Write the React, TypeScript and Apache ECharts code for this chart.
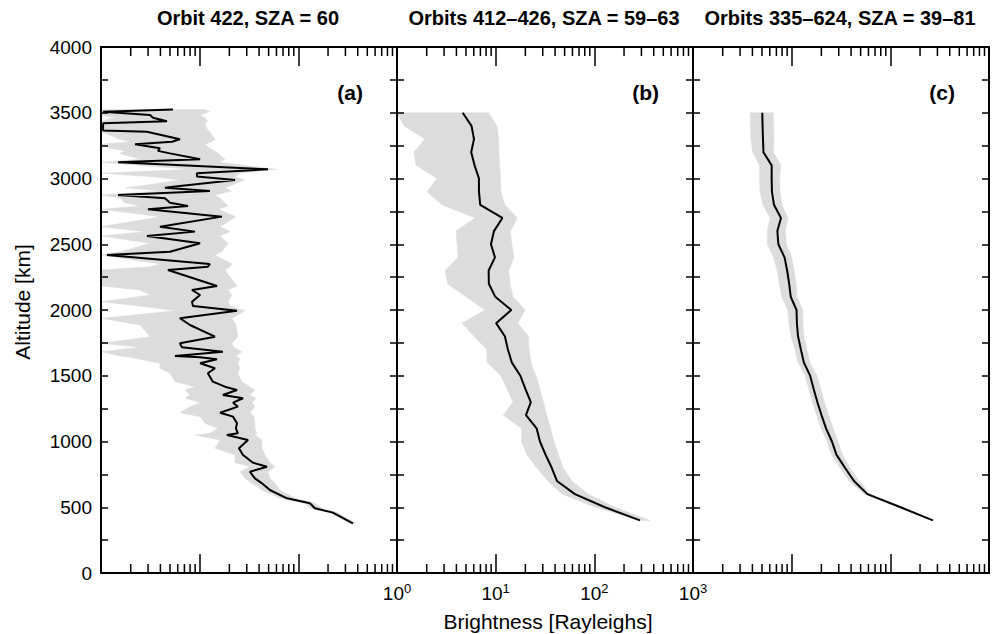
import React, { useEffect, useRef } from 'react';
import * as echarts from 'echarts';

const PANEL_TITLES = ['Orbit 422, SZA = 60', 'Orbits 412–426, SZA = 59–63', 'Orbits 335–624, SZA = 39–81'];
const PANEL_TAGS = ['(a)', '(b)', '(c)'];
const X_NAME = 'Brightness [Rayleighs]';
const Y_NAME = 'Altitude [km]';
const X_MIN = 1;
const X_MAX = 1000;
const Y_MIN = 0;
const Y_MAX = 4000;
const Y_STEP = 250;
const Y_LABEL_STEP = 500;
const MINOR_X = [2, 3, 4, 5, 6, 7, 8, 9, 20, 30, 40, 50, 60, 70, 80, 90, 200, 300, 400, 500, 600, 700, 800, 900];

// rows: [altitude km, brightness R, band low, band high]
const ROWS_A = [
  [3525, 5.36, 1, 11.3], [3508, 1.05, 1, 12.7], [3483, 3.14, 1, 10.1], [3462, 3.36, 1.39, 11.3],
  [3435, 4.66, 1, 12.1], [3420, 1.05, 1, 11.3], [3365, 1.05, 1, 12.1], [3356, 2.92, 1, 12.7],
  [3298, 6.31, 1.56, 14.3], [3280, 5.24, 1.97, 13.3], [3260, 2.21, 1, 11.3], [3230, 3.96, 1.23, 12.7],
  [3210, 3.78, 1.75, 14.3], [3191, 5.0, 1.56, 15.3], [3146, 10.1, 2.48, 18.0], [3123, 1.49, 1, 16.1],
  [3070, 49.2, 7.97, 59.3], [3040, 9.39, 1, 25.6], [3015, 9.39, 3.14, 22.8], [2989, 22.8, 6.31, 28.8],
  [2943, 6.31, 2.48, 20.3], [2930, 4.45, 1.75, 18.0], [2905, 12.7, 3.96, 21.2], [2875, 1.49, 1, 14.3],
  [2850, 4.45, 1.56, 16.1], [2816, 5.0, 1.75, 18.0], [2791, 7.61, 2.48, 19.4], [2766, 2.99, 1, 15.3],
  [2710, 16.8, 3.96, 23.3], [2633, 3.96, 1, 16.1], [2596, 8.96, 2.79, 20.3], [2563, 2.92, 1, 16.1],
  [2507, 10.1, 3.14, 19.4], [2443, 5.0, 1.56, 16.8], [2418, 1.15, 1, 14.3], [2350, 12.7, 3.96, 21.2],
  [2329, 12.1, 3.14, 20.3], [2304, 4.77, 1, 18.0], [2183, 15.0, 1, 23.9], [2152, 8.36, 2.48, 19.4],
  [2114, 10.1, 3.14, 21.2], [2063, 8.36, 1, 19.4], [2030, 8.56, 2.48, 20.3], [1995, 23.9, 5.62, 28.8],
  [1937, 6.31, 1, 21.2], [1886, 7.97, 2.48, 23.3], [1797, 14.3, 3.14, 24.4], [1747, 6.31, 1, 21.2],
  [1716, 6.62, 2.48, 22.3], [1683, 17.2, 1, 26.8], [1650, 5.62, 1.56, 23.3], [1640, 10.1, 1.97, 24.4],
  [1625, 15.0, 2.48, 25.6], [1595, 10.1, 3.96, 24.4], [1557, 14.3, 3.96, 25.6], [1519, 12.1, 5.0, 24.4],
  [1455, 13.6, 5.62, 26.8], [1417, 18.0, 8.96, 32.3], [1392, 23.9, 7.1, 36.3], [1354, 17.2, 7.97, 32.3],
  [1329, 27.5, 7.1, 37.2], [1295, 21.8, 10.1, 33.9], [1265, 24.4, 7.97, 36.3], [1219, 16.1, 6.31, 32.3],
  [1189, 21.8, 10.1, 35.5], [1138, 23.9, 11.3, 36.3], [1100, 23.3, 15.3, 36.3], [1062, 24.4, 12.7, 38.1],
  [1049, 18.9, 8.96, 36.3], [1011, 30.9, 16.1, 42.8], [948, 25.0, 14.3, 42.8], [897, 27.5, 22.8, 45.9],
  [839, 34.7, 22.8, 51.5], [808, 48.1, 32.3, 57.9], [770, 32.3, 25.6, 49.2], [720, 36.3, 28.8, 51.5],
  [682, 42.8, 33.9, 57.9], [631, 51.5, 42.8, 65.2], [568, 76.7, 65.2, 92.5], [530, 131, 117, 147],
  [492, 147, 131, 173], [459, 224, 209, 252], [378, 357, 333, 384],
];

const ROWS_B = [
  [3500, 4.63, 1.0, 8.49], [3400, 5.69, 1.18, 10.3], [3300, 6.03, 1.92, 10.7], [3200, 5.65, 1.48, 10.8],
  [3100, 6.11, 1.56, 11.0], [3000, 6.77, 2.54, 11.2], [2900, 6.77, 2.01, 11.3], [2800, 6.98, 2.86, 12.4],
  [2700, 11.7, 6.17, 16.5], [2600, 9.61, 3.96, 14.1], [2500, 8.96, 4.06, 14.6], [2400, 9.84, 4.15, 15.3],
  [2300, 8.49, 3.08, 13.6], [2200, 8.53, 3.25, 14.0], [2100, 9.91, 5.0, 15.0], [2000, 14.4, 7.79, 19.9],
  [1900, 10.1, 4.55, 16.8], [1800, 12.4, 6.03, 21.4], [1700, 13.3, 8.11, 21.8], [1600, 14.6, 8.18, 22.8],
  [1500, 17.8, 11.3, 25.6], [1400, 20.0, 13.0, 28.1], [1300, 22.7, 15.0, 30.5], [1200, 20.3, 11.9, 33.0],
  [1100, 26.0, 18.3, 35.9], [1000, 28.1, 18.3, 38.9], [900, 32.0, 20.7, 43.3], [800, 37.0, 26.0, 48.1],
  [700, 41.8, 33.8, 59.3], [600, 63.6, 46.9, 86.3], [500, 128, 101, 162], [400, 290, 290, 366],
];

const ROWS_C = [
  [3500, 5.04, 3.81, 6.51], [3400, 5.07, 3.83, 6.56], [3300, 5.12, 3.87, 6.62], [3200, 5.18, 4.01, 6.54],
  [3100, 6.27, 4.74, 7.74], [3000, 6.27, 4.74, 7.56], [2900, 6.31, 4.77, 7.61], [2800, 6.62, 5.12, 7.97],
  [2700, 7.79, 6.03, 9.18], [2600, 7.16, 5.67, 8.63], [2500, 7.33, 5.67, 8.84], [2400, 8.47, 6.56, 9.98],
  [2300, 9.0, 7.13, 10.6], [2200, 9.43, 7.47, 11.1], [2100, 9.79, 7.94, 11.3], [2000, 11.2, 9.12, 12.9],
  [1900, 11.3, 9.39, 13.0], [1800, 11.6, 9.84, 13.3], [1700, 12.4, 10.8, 14.3], [1600, 13.3, 11.6, 15.3],
  [1500, 15.4, 13.7, 18.1], [1400, 16.7, 14.9, 19.7], [1300, 18.2, 16.2, 21.4], [1200, 20.1, 17.9, 23.7],
  [1100, 22.3, 19.9, 26.3], [1000, 25.6, 22.8, 29.4], [900, 28.4, 25.3, 32.7], [800, 34.7, 30.9, 39.0],
  [700, 42.8, 38.1, 48.1], [600, 58.5, 54.5, 62.7], [500, 127, 122, 131], [400, 270, 267, 273],
];

const FONT = '"Liberation Sans", Arial, Helvetica, sans-serif';

export default function App() {
  const ref = useRef<HTMLDivElement>(null);

  useEffect(() => {
    if (!ref.current) return;
    const chart = echarts.init(ref.current, null, { renderer: 'svg' });
    const panels = [ROWS_A, ROWS_B, ROWS_C];
    const LEFT = 101;
    const W = 296;
    const TOP = 47;
    const H = 526;

    const grid = panels.map((_, i) => ({ left: LEFT + i * W, top: TOP, width: W, height: H, containLabel: false }));

    const axisLine = { show: true, onZero: false, lineStyle: { color: '#000', width: 2 } };
    const xAxis: any[] = [];
    const yAxis: any[] = [];
    panels.forEach((_, i) => {
      const base = {
        type: 'log',
        logBase: 10,
        gridIndex: i,
        min: X_MIN,
        max: X_MAX,
        axisLine,
        axisTick: { show: true, inside: true, length: 19, lineStyle: { color: '#000', width: 1.5 } },
        splitLine: { show: false },
        z: 10,
      };
      xAxis.push({
        ...base,
        position: 'bottom',
        axisLabel:
          i === 1
            ? {
                show: true,
                showMinLabel: true,
                showMaxLabel: true,
                margin: 9,
                formatter: (v: number) => `{b|10}{s|${Math.round(Math.log10(v))}}`,
                rich: {
                  b: { fontSize: 19, fontFamily: FONT, color: '#000', lineHeight: 22 },
                  s: { fontSize: 13, fontFamily: FONT, color: '#000', verticalAlign: 'top', lineHeight: 13 },
                },
              }
            : { show: false },
      });
      xAxis.push({ ...base, position: 'top', axisLabel: { show: false } });

      const ybase = {
        type: 'value',
        gridIndex: i,
        min: Y_MIN,
        max: Y_MAX,
        interval: Y_STEP,
        axisLine,
        axisTick: { show: true, inside: true, length: 7, lineStyle: { color: '#000', width: 1.5 } },
        splitLine: { show: false },
        z: 10,
      };
      yAxis.push({
        ...ybase,
        position: 'left',
        axisLabel:
          i === 0
            ? {
                show: true,
                margin: 9,
                fontSize: 19,
                fontFamily: FONT,
                color: '#000',
                formatter: (v: number) => (v % Y_LABEL_STEP === 0 ? String(v) : ''),
              }
            : { show: false },
      });
      yAxis.push({ ...ybase, position: 'right', axisLabel: { show: false } });
    });

    const series: any[] = [];
    panels.forEach((rows, i) => {
      series.push({
        type: 'custom',
        xAxisIndex: 2 * i,
        yAxisIndex: 2 * i,
        silent: true,
        z: 1,
        data: rows.map((r) => [r[2], r[0], r[3]]),
        encode: { x: [0, 2], y: 1 },
        renderItem: (params: any, api: any) => {
          if (params.dataIndex !== 0) return null;
          const pts: number[][] = [];
          rows.forEach((r) => pts.push(api.coord([r[3], r[0]])));
          for (let k = rows.length - 1; k >= 0; k--) pts.push(api.coord([rows[k][2], rows[k][0]]));
          return { type: 'polygon', shape: { points: pts }, style: { fill: '#dcdcdc', stroke: '#dcdcdc', lineWidth: 0.5 } };
        },
      });
      series.push({
        type: 'line',
        xAxisIndex: 2 * i,
        yAxisIndex: 2 * i,
        data: rows.map((r) => [r[1], r[0]]),
        symbol: 'none',
        silent: true,
        z: 3,
        lineStyle: { color: '#000', width: 2 },
      });
      series.push({
        type: 'custom',
        xAxisIndex: 2 * i,
        yAxisIndex: 2 * i,
        silent: true,
        z: 12,
        data: MINOR_X.map((v) => [v, Y_MIN]),
        encode: { x: 0, y: 1 },
        renderItem: (_p: any, api: any) => {
          const v = api.value(0);
          const b = api.coord([v, Y_MIN]);
          const t = api.coord([v, Y_MAX]);
          const st = { stroke: '#000', lineWidth: 1.5 };
          return {
            type: 'group',
            children: [
              { type: 'line', shape: { x1: b[0], y1: b[1], x2: b[0], y2: b[1] - 9 }, style: st },
              { type: 'line', shape: { x1: t[0], y1: t[1], x2: t[0], y2: t[1] + 9 }, style: st },
            ],
          };
        },
      });
    });

    const graphic: any[] = [];
    PANEL_TITLES.forEach((t, i) => {
      graphic.push({
        type: 'text',
        x: LEFT + i * W + W / 2 - 1,
        y: 18,
        style: { text: t, font: `bold 20px ${FONT}`, fill: '#000', textAlign: 'center', textVerticalAlign: 'middle' },
      });
      graphic.push({
        type: 'text',
        x: LEFT + (i + 1) * W - 34,
        y: 92,
        style: { text: PANEL_TAGS[i], font: `bold 21px ${FONT}`, fill: '#000', textAlign: 'right', textVerticalAlign: 'middle' },
      });
    });
    graphic.push({
      type: 'text',
      x: LEFT + W + W / 2 + 3,
      y: 621,
      style: { text: X_NAME, font: `21px ${FONT}`, fill: '#000', textAlign: 'center', textVerticalAlign: 'middle' },
    });
    graphic.push({
      type: 'text',
      x: 22,
      y: 302,
      rotation: Math.PI / 2,
      style: { text: Y_NAME, font: `21px ${FONT}`, fill: '#000', textAlign: 'center', textVerticalAlign: 'middle' },
    });

    chart.setOption({
      animation: false,
      backgroundColor: '#fff',
      grid,
      xAxis,
      yAxis,
      series,
      graphic,
    });

    return () => chart.dispose();
  }, []);

  return <div ref={ref} style={{ position: 'fixed', left: 0, top: 0, width: 994, height: 634 }} />;
}
